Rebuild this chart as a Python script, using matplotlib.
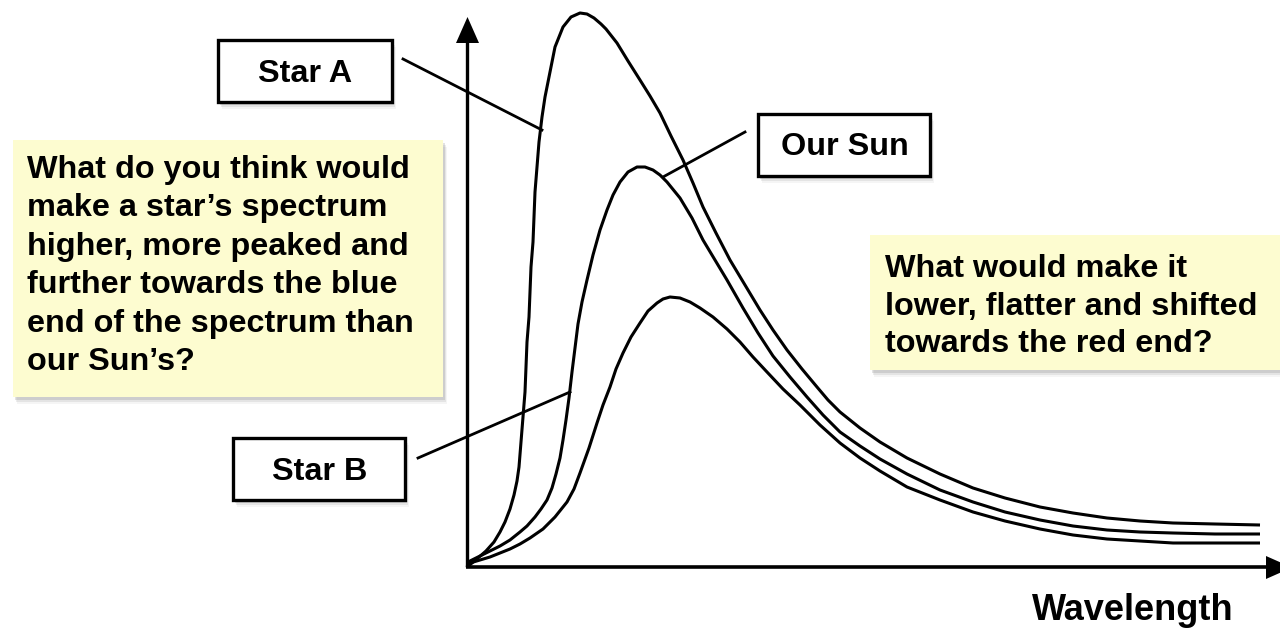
import matplotlib.pyplot as plt
from matplotlib.patches import Rectangle, Polygon

plt.rcParams['font.family'] = ['Liberation Sans', 'DejaVu Sans']

# curve values (wavelength, intensity in arbitrary units)
star_a_x = [0, 5, 11, 19, 27, 33, 38, 43, 47, 50, 52, 54, 56, 58, 59, 60, 62, 63, 64, 66, 67, 68, 70,
            72, 75, 78, 82, 88, 96, 104, 113, 120, 127, 134, 139, 150, 161, 173, 183, 193, 204, 216,
            226, 236, 249, 263, 278, 293, 306, 320, 335, 350, 361, 373, 393, 413, 440, 473, 506, 538,
            573, 606, 640, 673, 706, 748, 793]
star_a_y = [0, 4, 9, 16, 25, 35, 45, 58, 72, 86, 100, 125, 150, 175, 200, 225, 250, 275, 300, 325, 350,
            375, 400, 425, 450, 470, 490, 520, 540, 550, 554, 553, 549, 543, 538, 524, 506, 487, 471, 454,
            431, 407, 384, 360, 334, 307, 282, 257, 237, 217, 198, 180, 167, 155, 139, 125, 109, 93, 79,
            69, 60, 54, 49, 46, 44, 43, 42]

sun_x = [0, 3, 13, 23, 33, 43, 53, 60, 68, 74, 80, 85, 89, 93, 96, 99, 102, 105, 108, 111, 115, 120,
         126, 133, 140, 146, 153, 161, 170, 178, 186, 193, 200, 213, 225, 236, 248, 260, 276, 291, 306,
         323, 340, 356, 373, 393, 413, 440, 473, 506, 538, 573, 606, 640, 673, 706, 748, 793]
sun_y = [0, 6, 11, 16, 21, 27, 35, 41, 50, 58, 67, 79, 93, 109, 127, 147, 169, 195, 219, 243, 265, 287,
         312, 337, 357, 372, 385, 395, 400, 400, 397, 392, 385, 369, 349, 327, 307, 287, 259, 234, 211,
         190, 170, 152, 135, 121, 108, 93, 77, 65, 55, 47, 41, 37, 35, 34, 33, 33]

star_b_x = [0, 3, 13, 23, 33, 43, 53, 63, 76, 88, 100, 107, 113, 122, 130, 136, 143, 149, 156, 164,
            173, 181, 190, 196, 203, 213, 223, 233, 246, 260, 273, 286, 300, 316, 333, 353, 373, 393,
            413, 440, 473, 506, 538, 573, 606, 640, 673, 706, 748, 793]
star_b_y = [0, 4, 7, 10, 14, 18, 23, 29, 38, 50, 65, 78, 94, 119, 144, 162, 180, 198, 214, 230, 244,
            256, 264, 268, 270, 269, 265, 259, 250, 238, 225, 210, 195, 178, 162, 142, 124, 109, 96, 80,
            67, 55, 46, 38, 32, 28, 26, 24, 24, 24]

left_lines = ["What do you think would", "make a star\u2019s spectrum", "higher, more peaked and",
              "further towards the blue", "end of the spectrum than", "our Sun\u2019s?"]
right_lines = ["What would make it", "lower, flatter and shifted", "towards the red end?"]

OX, OY = 467, 567  # pixel position of the axes origin


def P(px, py):
    return px - OX, OY - py


def box(px1, py1, px2, py2, fc, edge):
    x1, y2 = P(px1, py1)
    x2, y1 = P(px2, py2)
    # soft drop shadow
    for d, a in [(7, 0.06), (5, 0.10), (3, 0.16)]:
        ax.add_patch(Rectangle((x1 + d * 0.6, y1 - d), x2 - x1, y2 - y1, fc='#555555', ec='none',
                               alpha=a, zorder=3))
    ax.add_patch(Rectangle((x1, y1), x2 - x1, y2 - y1, fc=fc,
                           ec='black' if edge else 'none', lw=2.4, zorder=4))


fig = plt.figure(figsize=(12.8, 6.3), dpi=100)
ax = fig.add_axes([0, 0, 1, 1])
ax.set_xlim(-OX, 1280 - OX)
ax.set_ylim(OY - 630, OY)
ax.axis('off')

# axes with arrow heads
ax.plot([0, 0], [0, 525], color='black', lw=2.4, solid_capstyle='butt', zorder=2)
ax.add_patch(Polygon([P(456, 43), P(479, 43), P(467.5, 17)], closed=True, fc='black', ec='none', zorder=2))
ax.plot([-1, 800], [0, 0], color='black', lw=2.6, solid_capstyle='butt', zorder=2)
ax.add_patch(Polygon([P(1266, 556), P(1266, 579), P(1292, 567.5)], closed=True, fc='black', ec='none', zorder=2))

# spectra
for xs, ys in [(star_a_x, star_a_y), (sun_x, sun_y), (star_b_x, star_b_y)]:
    ax.plot(xs, ys, color='black', lw=2.2, solid_joinstyle='round', solid_capstyle='butt', zorder=2)

# leader lines
for (a, b) in [((403, 59), (542, 130)), ((745, 132), (663, 177)), ((418, 458), (570, 392))]:
    ax.plot(*zip(P(*a), P(*b)), color='black', lw=2.0, zorder=2)

# question boxes
box(13, 140, 443, 397, '#fdfcd0', False)
box(870, 235, 1290, 370, '#fdfcd0', False)
for i, t in enumerate(left_lines):
    ax.text(*P(27, 178 + 38.4 * i), t, fontsize=23.3, fontweight='bold', va='baseline', ha='left', zorder=5)
for i, t in enumerate(right_lines):
    ax.text(*P(885, 277 + 37.5 * i), t, fontsize=23.3, fontweight='bold', va='baseline', ha='left', zorder=5)

# label boxes
box(218, 40, 392, 102, 'white', True)
ax.text(*P(305, 82), "Star A", fontsize=23.3, fontweight='bold', ha='center', va='baseline', zorder=5)
box(758, 114, 930, 176, 'white', True)
ax.text(*P(845, 155), "Our Sun", fontsize=23.3, fontweight='bold', ha='center', va='baseline', zorder=5)
box(233, 438, 405, 500, 'white', True)
ax.text(*P(320, 480), "Star B", fontsize=23.3, fontweight='bold', ha='center', va='baseline', zorder=5)

ax.text(*P(1032, 620), "Wavelength", fontsize=26, fontweight='bold', ha='left', va='baseline', zorder=5)

fig.savefig('out.png', dpi=100)
